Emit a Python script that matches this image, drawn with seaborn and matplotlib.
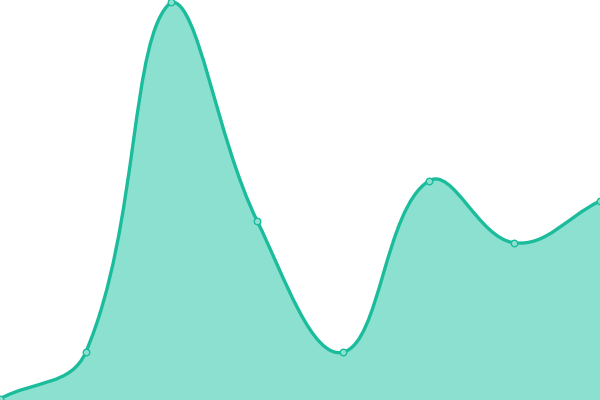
import matplotlib
matplotlib.use("Agg")
import matplotlib.pyplot as plt
from matplotlib.path import Path
from matplotlib.patches import PathPatch
import numpy as np
import pandas as pd
import seaborn as sns

# data
categories = [0, 1, 2, 3, 4, 5, 6, 7]
values = [0.3, 12, 100, 45, 12, 55, 39.5, 50]

LINE = "#1abc9c"
FILL = "#8be0cf"

sns.set_theme(style="white")
fig = plt.figure(figsize=(6, 4), dpi=100)
ax = fig.add_axes([0, 0, 1, 1])
ax.set_xlim(0, 7)
ax.set_ylim(0, 100.5)
ax.axis("off")

# spline (tension 0.4) computed in display space, control points capped to the plot area
pts = ax.transData.transform(np.column_stack([categories, values]))
tension = 0.4
n = len(pts)
bb = ax.bbox
cps_in, cps_out = [], []
for i in range(n):
    p = pts[i]
    prev = pts[i - 1] if i > 0 else p
    nxt = pts[i + 1] if i < n - 1 else p
    d01 = np.linalg.norm(p - prev)
    d12 = np.linalg.norm(nxt - p)
    tot = d01 + d12
    s01 = d01 / tot if tot else 0
    s12 = d12 / tot if tot else 0
    cin = p - tension * s01 * (nxt - prev)
    cout = p + tension * s12 * (nxt - prev)
    for c in (cin, cout):
        c[0] = min(max(c[0], bb.x0), bb.x1)
        c[1] = min(max(c[1], bb.y0), bb.y1)
    cps_in.append(cin)
    cps_out.append(cout)

verts = [tuple(pts[0])]
codes = [Path.MOVETO]
for i in range(n - 1):
    verts += [tuple(cps_out[i]), tuple(cps_in[i + 1]), tuple(pts[i + 1])]
    codes += [Path.CURVE4] * 3
inv = ax.transData.inverted()
verts_d = inv.transform(np.array(verts))
line_path = Path(verts_d, codes)

fill_verts = list(verts_d) + [(categories[-1], 0), (categories[0], 0), tuple(verts_d[0])]
fill_codes = codes + [Path.LINETO, Path.LINETO, Path.CLOSEPOLY]
ax.add_patch(PathPatch(Path(fill_verts, fill_codes), facecolor=FILL, edgecolor="none", zorder=1))
ax.add_patch(PathPatch(line_path, facecolor="none", edgecolor=LINE, lw=2.4, zorder=2,
                       capstyle="round", joinstyle="round"))

df = pd.DataFrame({"x": categories, "y": values})
sns.scatterplot(data=df, x="x", y="y", ax=ax, s=22, color=FILL, edgecolor=LINE,
                linewidth=1.0, zorder=3, clip_on=True, legend=False)
ax.set_xlim(0, 7)
ax.set_ylim(0, 100.5)
ax.axis("off")

fig.savefig("out.png", dpi=100)
